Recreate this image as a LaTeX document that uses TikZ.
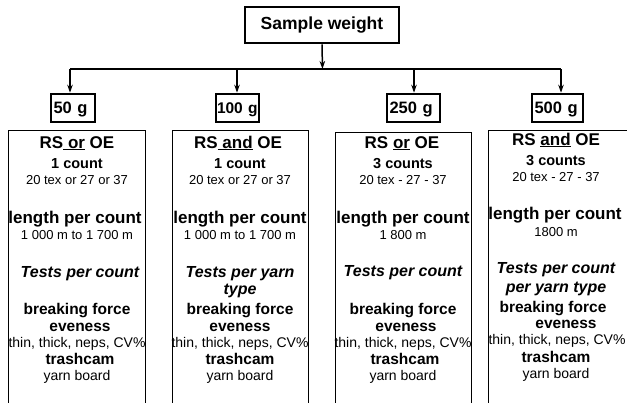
\documentclass[tikz,border=0pt]{standalone}
\usepackage{fontspec}
\setmainfont{Liberation Sans}
\usetikzlibrary{arrows.meta}
\newcommand\fsz[1]{\fontsize{#1}{#1}\selectfont}
\newcommand\myul[1]{\setbox0\hbox{#1}\rlap{\raisebox{-2.3pt}{\rule{\wd0}{1.4pt}}}\box0\relax}
\tikzset{
  swbox/.style={draw, line width=2.6pt, font=\fsz{17.5}\bfseries, inner sep=0},
  sbox/.style={draw, line width=2.6pt, font=\fsz{16.5}\bfseries, inner xsep=2.5pt, inner ysep=0, minimum height=28pt, text depth=0pt, align=left},
  bigbox/.style={draw, line width=1.3pt, minimum height=300pt, anchor=north west, inner sep=0},
  conn/.style={line width=1.5pt},
  arr/.style={line width=1.5pt, -{Stealth[length=8pt,width=5.5pt]}},
  txt/.style={anchor=base, inner sep=0},
  hdr/.style={txt, font=\fsz{17}\bfseries},
  cnt/.style={txt, font=\fsz{14.5}\bfseries},
  reg/.style={txt, font=\fsz{13}},
  lpc/.style={txt, font=\fsz{17}\bfseries},
  tst/.style={txt, font=\fsz{16}\bfseries\itshape},
  bf/.style={txt, font=\fsz{15.5}\bfseries},
  sm/.style={txt, font=\fsz{14}},
}
\begin{document}
\begin{tikzpicture}[x=1pt, y=-1pt]
\path[use as bounding box, clip] (0,0) rectangle (627,402);
\fill[white] (0,0) rectangle (627,402);

% top box
\node[swbox, minimum width=154pt, minimum height=36pt] (sw) at (322,25) {Sample weight};

% junction coordinates
\coordinate (jc) at (322.5,69);
\coordinate (j1) at (70,69);
\coordinate (j2) at (237,69);
\coordinate (j3) at (414,69);
\coordinate (j4) at (561,69);

% small boxes
\node[sbox, text width=39pt] (w1) at (73,108) {\mbox{50 g}};
\node[sbox, text width=41pt, inner xsep=1pt, font=\fsz{15.5}\bfseries] (w2) at (237.5,108) {\mbox{100 g}};
\node[sbox, text width=48pt] (w3) at (413.5,108) {\mbox{250 g}};
\node[sbox, text width=46pt] (w4) at (557.5,108) {\mbox{500 g}};

% connectors
\draw[arr] (sw.south) -- (jc);
\draw[conn] (j1) -- (j4);
\draw[arr] (j1) -- (j1 |- w1.north);
\draw[arr] (j2) -- (j2 |- w2.north);
\draw[arr] (j3) -- (j3 |- w3.north);
\draw[arr] (j4) -- (j4 |- w4.north);

% big boxes
\node[bigbox, minimum width=137pt] (b1) at (8,130) {};
\node[bigbox, minimum width=136pt] (b2) at (172,130) {};
\node[bigbox, minimum width=136pt] (b3) at (335,132) {};
\node[bigbox, minimum width=140pt] (b4) at (488,130) {};

% box 1
\node[hdr] (a1) at (77,148) {RS\myul{ or} OE};
\node[cnt] (a2) at (77,168) {1 count};
\node[reg] (a3) at (77,184) {20 tex or 27 or 37};
\node[lpc] (a4) at (75,223) {length per count};
\node[reg] (a5) at (77,239) {1 000 m to 1 700 m};
\node[tst] (a6) at (80,277) {Tests per count};
\node[bf] (a7) at (77,314) {breaking force};
\node[bf] (a8) at (80,331) {eveness};
\node[sm] (a9) at (77,347) {thin, thick, neps, CV\%};
\node[bf] (a10) at (80,364) {trashcam};
\node[sm] (a11) at (77,380) {yarn board};

% box 2
\node[hdr] (c1) at (238,148) {RS\myul{ and} OE};
\node[cnt] (c2) at (240,168) {1 count};
\node[reg] (c3) at (240,184) {20 tex or 27 or 37};
\node[lpc] (c4) at (240,223) {length per count};
\node[reg] (c5) at (240,239) {1 000 m to 1 700 m};
\node[tst] (c6) at (240,277) {Tests per yarn};
\node[tst] (c7) at (240,294) {type};
\node[bf] (c8) at (240,314) {breaking force};
\node[bf] (c9) at (240,331) {eveness};
\node[sm] (c10) at (240,347) {thin, thick, neps, CV\%};
\node[bf] (c11) at (240,364) {trashcam};
\node[sm] (c12) at (240,380) {yarn board};

% box 3
\node[hdr] (d1) at (402,148) {RS \myul{or} OE};
\node[cnt] (d2) at (403,168) {3 counts};
\node[reg] (d3) at (403,184) {20 tex - 27 - 37};
\node[lpc] (d4) at (403,223) {length per count};
\node[reg] (d5) at (403,239) {1 800 m};
\node[tst] (d6) at (403,276) {Tests per count};
\node[bf] (d7) at (403,314) {breaking force};
\node[bf] (d8) at (406,331) {eveness};
\node[sm] (d9) at (403,347) {thin, thick, neps, CV\%};
\node[bf] (d10) at (405,364) {trashcam};
\node[sm] (d11) at (403,380) {yarn board};

% box 4
\node[hdr] (e1) at (556,145) {RS \myul{and} OE};
\node[cnt] (e2) at (556,165) {3 counts};
\node[reg] (e3) at (556,181) {20 tex - 27 - 37};
\node[lpc] (e4) at (555,219) {length per count};
\node[reg] (e5) at (556,236) {1800 m};
\node[tst] (e6) at (556,273) {Tests per count};
\node[tst] (e7) at (556,292) {per yarn type};
\node[bf] (e8) at (553,312) {breaking force};
\node[bf] (e9) at (566,328) {eveness};
\node[sm] (e10) at (557,344) {thin, thick, neps, CV\%};
\node[bf] (e11) at (556,362) {trashcam};
\node[sm] (e12) at (556,378) {yarn board};
\end{tikzpicture}
\end{document}
